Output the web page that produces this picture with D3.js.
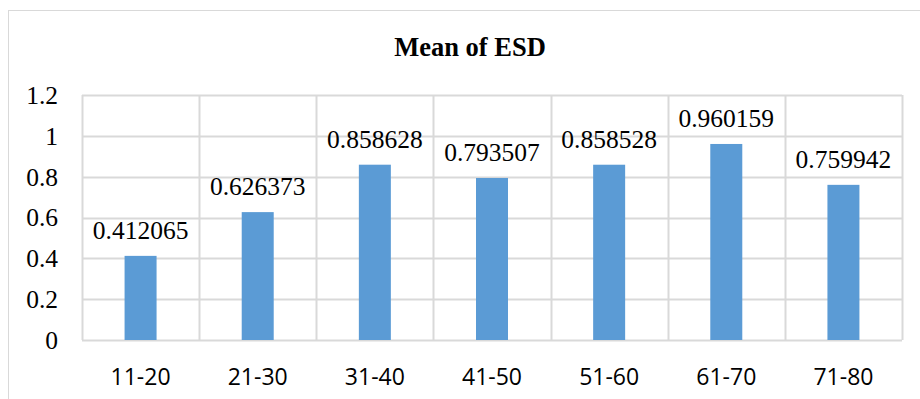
<!DOCTYPE html>
<html>
<head>
<meta charset="utf-8">
<script src="https://cdn.jsdelivr.net/npm/d3@7"></script>
<style>
  html, body { margin: 0; padding: 0; background: #fff; }
  svg { display: block; }
</style>
</head>
<body>
<svg id="chart" width="920" height="399"></svg>
<script>
// Age groups and the mean ESD for each group
const categories = ["11-20", "21-30", "31-40", "41-50", "51-60", "61-70", "71-80"];
const meanESD = [0.412065, 0.626373, 0.858628, 0.793507, 0.858528, 0.960159, 0.759942];
const yTicks = [0, 0.2, 0.4, 0.6, 0.8, 1, 1.2];
const chartTitle = "Mean of ESD";

const svg = d3.select("#chart");
const W = 920, H = 399;
const plot = { left: 82, right: 902, top: 95, bottom: 340 };

const serif = "'Liberation Serif', 'Times New Roman', serif";
const sans = "'Open Sans', 'Liberation Sans', sans-serif";
const gridColor = "#d9d9d9";

svg.append("rect").attr("width", W).attr("height", H).attr("fill", "#fff");

// chart area frame
svg.append("rect")
  .attr("x", 8.5).attr("y", 10.5)
  .attr("width", 940).attr("height", 420)
  .attr("fill", "none").attr("stroke", gridColor).attr("stroke-width", 1);

const x = d3.scaleBand()
  .domain(categories)
  .range([plot.left, plot.right])
  .paddingInner(0)
  .paddingOuter(0);

const y = d3.scaleLinear()
  .domain([0, 1.2])
  .range([plot.bottom, plot.top]);

// horizontal gridlines
svg.append("g")
  .selectAll("line")
  .data(yTicks)
  .join("line")
  .attr("x1", plot.left).attr("x2", plot.right)
  .attr("y1", d => Math.round(y(d)) + 0.5).attr("y2", d => Math.round(y(d)) + 0.5)
  .attr("stroke", gridColor).attr("stroke-width", 2);

// vertical gridlines at category boundaries
const bounds = categories.map(c => x(c)).concat([plot.right]);
svg.append("g")
  .selectAll("line")
  .data(bounds)
  .join("line")
  .attr("x1", d => Math.round(d) + 0.5).attr("x2", d => Math.round(d) + 0.5)
  .attr("y1", plot.top).attr("y2", plot.bottom)
  .attr("stroke", gridColor).attr("stroke-width", 2);

// y axis labels
const yAxis = d3.axisLeft(y).tickValues(yTicks).tickSize(0).tickPadding(0)
  .tickFormat(d => String(d));
const yg = svg.append("g").attr("transform", `translate(${plot.left - 24},0)`).call(yAxis);
yg.select(".domain").remove();
yg.selectAll("text")
  .attr("font-family", serif).attr("font-size", 25.5).attr("fill", "#000")
  .attr("dy", "0.33em");

// x axis labels
const xAxis = d3.axisBottom(x).tickSize(0).tickPadding(0);
const xg = svg.append("g").attr("transform", `translate(0,${plot.bottom})`).call(xAxis);
xg.select(".domain").remove();
xg.selectAll("text")
  .attr("font-family", sans).attr("font-size", 23).attr("fill", "#000")
  .attr("y", 45).attr("dy", 0);

// bars
const barW = 32;
svg.append("g")
  .selectAll("rect")
  .data(meanESD)
  .join("rect")
  .attr("x", (d, i) => x(categories[i]) + x.bandwidth() / 2 - barW / 2)
  .attr("y", d => y(d))
  .attr("width", barW)
  .attr("height", d => y(0) - y(d))
  .attr("fill", "#5b9bd5");

// value labels
svg.append("g")
  .selectAll("text")
  .data(meanESD)
  .join("text")
  .attr("x", (d, i) => x(categories[i]) + x.bandwidth() / 2)
  .attr("y", d => y(d) - 17)
  .attr("text-anchor", "middle")
  .attr("font-family", serif).attr("font-size", 25.5).attr("fill", "#000")
  .text(d => String(d));

// title
svg.append("text")
  .attr("x", 470).attr("y", 56)
  .attr("text-anchor", "middle")
  .attr("font-family", serif).attr("font-size", 26.5).attr("font-weight", "bold")
  .attr("fill", "#000")
  .text(chartTitle);
</script>
</body>
</html>
